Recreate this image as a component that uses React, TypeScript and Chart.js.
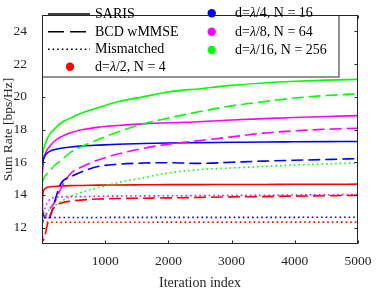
import React, { useEffect, useRef } from 'react';
import { Chart, registerables } from 'chart.js';

Chart.register(...registerables);

// Iteration indices shared by every series
const iterations = [1, 15, 40, 80, 130, 200, 300, 450, 650, 900, 1200, 1600, 2000, 2500, 3000, 3500, 4000, 4500, 5000];

// SARIS (solid)
const sarisN4 = [13.4, 14.1, 14.35, 14.45, 14.5, 14.52, 14.55, 14.57, 14.58, 14.6, 14.61, 14.62, 14.63, 14.63, 14.64, 14.64, 14.65, 14.65, 14.66];
const sarisN16 = [15.2, 16.0, 16.35, 16.55, 16.68, 16.78, 16.86, 16.93, 17.0, 17.05, 17.1, 17.15, 17.18, 17.2, 17.22, 17.24, 17.25, 17.26, 17.27];
const sarisN64 = [15.1, 16.0, 16.4, 16.75, 17.0, 17.3, 17.55, 17.8, 18.0, 18.15, 18.25, 18.35, 18.42, 18.48, 18.58, 18.67, 18.74, 18.8, 18.85];
const sarisN256 = [16.0, 16.6, 17.0, 17.4, 17.75, 18.05, 18.4, 18.7, 19.05, 19.35, 19.7, 20.0, 20.3, 20.5, 20.7, 20.85, 20.95, 21.02, 21.07];

// BCD wMMSE (dashed)
const bcdN4 = [11.8, 11.2, 11.4, 12.1, 12.75, 13.3, 13.5, 13.62, 13.7, 13.75, 13.78, 13.8, 13.82, 13.85, 13.88, 13.9, 13.93, 13.95, 13.98];
const bcdN16 = [13.3, 12.9, 12.6, 12.5, 12.7, 13.6, 14.7, 15.1, 15.45, 15.75, 15.88, 15.95, 15.97, 15.93, 16.0, 16.07, 16.12, 16.17, 16.22];
const bcdN64 = [14.0, 13.0, 12.6, 12.9, 13.2, 13.55, 14.4, 15.3, 15.75, 16.15, 16.5, 16.85, 17.1, 17.33, 17.55, 17.78, 17.92, 18.02, 18.08];
const bcdN256 = [14.7, 14.9, 15.1, 15.3, 15.5, 15.8, 16.1, 16.6, 17.0, 17.4, 17.85, 18.35, 18.7, 19.1, 19.45, 19.7, 19.93, 20.08, 20.18];

// Mismatched (dotted)
const misN4 = [12.3, 12.32, 12.33, 12.33, 12.33, 12.33, 12.33, 12.33, 12.33, 12.33, 12.33, 12.33, 12.34, 12.34, 12.34, 12.34, 12.34, 12.34, 12.34];
const misN16 = [12.1, 12.4, 12.6, 12.62, 12.62, 12.62, 12.62, 12.62, 12.62, 12.62, 12.63, 12.63, 12.63, 12.63, 12.63, 12.63, 12.63, 12.64, 12.64];
const misN64 = [12.6, 12.8, 13.1, 13.5, 13.75, 13.85, 13.88, 13.9, 13.9, 13.92, 13.93, 13.94, 13.95, 13.96, 13.97, 13.98, 14.0, 14.01, 14.03];
const misN256 = [12.3, 12.5, 12.75, 12.95, 13.15, 13.35, 13.6, 13.9, 14.2, 14.45, 14.75, 15.05, 15.35, 15.55, 15.65, 15.74, 15.83, 15.9, 15.97];

const xTickValues = [1000, 2000, 3000, 4000, 5000];
const yTickValues = [12, 14, 16, 18, 20, 22, 24];

const RED = '#ff0000';
const BLUE = '#0000ff';
const MAGENTA = '#ff00ff';
const GREEN = '#00ff00';
const AXIS = '#262626';
const FONT = '"Liberation Serif", "Times New Roman", serif';

const DASH = [12, 5];
const DOT = [1.6, 3];

const toPoints = (ys: number[]) => iterations.map((x, i) => ({ x, y: ys[i] }));

const seriesList = [
  { ys: misN4, color: RED, dash: DOT },
  { ys: misN16, color: BLUE, dash: DOT },
  { ys: misN64, color: MAGENTA, dash: DOT },
  { ys: misN256, color: GREEN, dash: DOT },
  { ys: bcdN4, color: RED, dash: DASH },
  { ys: bcdN16, color: BLUE, dash: DASH },
  { ys: bcdN64, color: MAGENTA, dash: DASH },
  { ys: bcdN256, color: GREEN, dash: DASH },
  { ys: sarisN4, color: RED, dash: [] as number[] },
  { ys: sarisN16, color: BLUE, dash: [] as number[] },
  { ys: sarisN64, color: MAGENTA, dash: [] as number[] },
  { ys: sarisN256, color: GREEN, dash: [] as number[] },
];

const legendLines = [
  { label: 'SARIS', dash: [] as number[] },
  { label: 'BCD wMMSE', dash: [16, 6] },
  { label: 'Mismatched', dash: [1.6, 3] },
];

const legendDots = [
  { pre: 'd=', lam: 'λ', post: '/2, N = 4', color: RED },
  { pre: 'd=', lam: 'λ', post: '/4, N = 16', color: BLUE },
  { pre: 'd=', lam: 'λ', post: '/8, N = 64', color: MAGENTA },
  { pre: 'd=', lam: 'λ', post: '/16, N = 256', color: GREEN },
];

const framePlugin = {
  id: 'frame',
  afterDraw(chart: any) {
    const ctx = chart.ctx as CanvasRenderingContext2D;
    const { left, right, top, bottom } = chart.chartArea;
    const xs = chart.scales.x;
    const ys = chart.scales.y;
    ctx.save();
    ctx.strokeStyle = AXIS;
    ctx.lineWidth = 1;
    ctx.setLineDash([]);
    const L = Math.round(left) + 0.5;
    const R = Math.round(right) - 0.5;
    const T = Math.round(top) + 0.5;
    const B = Math.round(bottom) - 0.5;
    ctx.strokeRect(L, T, R - L, B - T);
    const tl = 3;
    ctx.beginPath();
    xTickValues.forEach((v) => {
      const px = Math.round(xs.getPixelForValue(v)) + 0.5;
      ctx.moveTo(px, B);
      ctx.lineTo(px, B - tl);
      ctx.moveTo(px, T);
      ctx.lineTo(px, T + tl);
    });
    yTickValues.forEach((v) => {
      const py = Math.round(ys.getPixelForValue(v)) + 0.5;
      ctx.moveTo(L, py);
      ctx.lineTo(L + tl, py);
      ctx.moveTo(R, py);
      ctx.lineTo(R - tl, py);
    });
    ctx.stroke();

    // Legend box
    const bx = L, by = T, bw = 339 - L, bh = 77 - T;
    ctx.fillStyle = '#ffffff';
    ctx.fillRect(bx, by, bw, bh);
    ctx.strokeStyle = AXIS;
    ctx.lineWidth = 1;
    ctx.strokeRect(bx, by, bw, bh);

    const rowY = [14, 31.7, 49.3, 66.7];
    ctx.font = `14px ${FONT}`;
    ctx.textBaseline = 'middle';
    ctx.textAlign = 'left';
    legendLines.forEach((it, i) => {
      ctx.strokeStyle = '#000000';
      ctx.lineWidth = 1.6;
      ctx.setLineDash(it.dash);
      ctx.beginPath();
      ctx.moveTo(48, rowY[i]);
      ctx.lineTo(90, rowY[i]);
      ctx.stroke();
      ctx.setLineDash([]);
      ctx.fillStyle = '#000000';
      ctx.fillText(it.label, 95, rowY[i] + 0.5);
    });
    const drawDotEntry = (it: any, cx: number, tx: number, y: number) => {
      ctx.fillStyle = it.color;
      ctx.beginPath();
      ctx.arc(cx, y, 4.2, 0, Math.PI * 2);
      ctx.fill();
      ctx.fillStyle = '#000000';
      ctx.font = `14px ${FONT}`;
      ctx.fillText(it.pre, tx, y + 0.5);
      let x = tx + ctx.measureText(it.pre).width;
      ctx.font = `italic 14px ${FONT}`;
      ctx.fillText(it.lam, x, y + 0.5);
      x += ctx.measureText(it.lam).width;
      ctx.font = `14px ${FONT}`;
      ctx.fillText(it.post, x, y + 0.5);
    };
    drawDotEntry(legendDots[0], 70, 95, rowY[3]);
    drawDotEntry(legendDots[1], 211.7, 235, 13.3);
    drawDotEntry(legendDots[2], 211.7, 235, 31.7);
    drawDotEntry(legendDots[3], 211.7, 235, 50);
    ctx.restore();
  },
};

export default function App() {
  const ref = useRef<HTMLCanvasElement | null>(null);
  useEffect(() => {
    document.body.style.margin = '0';
    const canvas = ref.current;
    if (!canvas) return;
    const chart = new Chart(canvas, {
      type: 'line',
      data: {
        datasets: seriesList.map((s) => ({
          data: toPoints(s.ys),
          borderColor: s.color,
          backgroundColor: s.color,
          borderDash: s.dash,
          borderWidth: 1.6,
          pointRadius: 0,
          fill: false,
          cubicInterpolationMode: 'monotone' as const,
        })),
      },
      options: {
        animation: false,
        responsive: false,
        maintainAspectRatio: false,
        devicePixelRatio: 1,
        layout: { padding: { top: 3, right: 19, left: 0, bottom: 0 } },
        plugins: { legend: { display: false }, tooltip: { enabled: false } },
        scales: {
          x: {
            type: 'linear',
            min: 0,
            max: 5000,
            afterBuildTicks: (s: any) => {
              s.ticks = xTickValues.map((v) => ({ value: v }));
            },
            afterFit: (s: any) => {
              s.height = 47;
            },
            grid: { display: false },
            border: { display: false },
            ticks: {
              color: AXIS,
              font: { family: FONT, size: 13.5 },
              padding: 1,
              maxRotation: 0,
              autoSkip: false,
              callback: (v: any) => String(v),
            },
            title: {
              display: true,
              text: 'Iteration index',
              color: AXIS,
              font: { family: FONT, size: 14 },
              padding: { top: 0, bottom: -1 },
            },
          },
          y: {
            type: 'linear',
            min: 11,
            max: 25,
            afterBuildTicks: (s: any) => {
              s.ticks = yTickValues.map((v) => ({ value: v }));
            },
            afterFit: (s: any) => {
              s.width = 42;
            },
            grid: { display: false },
            border: { display: false },
            ticks: {
              color: AXIS,
              font: { family: FONT, size: 13.5 },
              padding: 7,
              autoSkip: false,
              callback: (v: any) => String(v),
            },
            title: {
              display: true,
              text: 'Sum Rate [bps/Hz]',
              color: AXIS,
              font: { family: FONT, size: 13.5 },
              padding: { top: 0, bottom: 0 },
            },
          },
        },
      },
      plugins: [framePlugin],
    });
    return () => chart.destroy();
  }, []);
  return (
    <div style={{ width: 377, height: 291 }}>
      <canvas ref={ref} width={377} height={291} style={{ display: 'block', width: 377, height: 291 }} />
    </div>
  );
}
